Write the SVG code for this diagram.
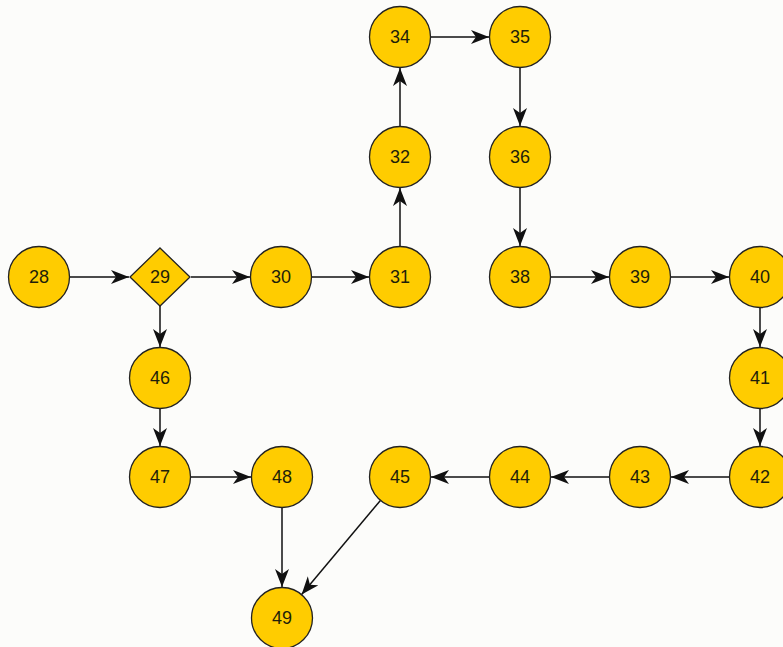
<svg xmlns="http://www.w3.org/2000/svg" width="783" height="647" viewBox="0 0 783 647">
<defs>
<style>
.n circle,.n polygon{fill:#FFCC00;stroke:#222;stroke-width:1.3}
.n text{font-family:"Liberation Sans",Arial,sans-serif;font-size:18px;fill:#1e1e0a;text-anchor:middle}
.e line{stroke:#111;stroke-width:1.5;marker-end:url(#a)}
</style>
<marker id="a" markerUnits="userSpaceOnUse" markerWidth="20" markerHeight="16" refX="18" refY="7" orient="auto">
<path d="M0,0 L18,7 L0,14 L5,7 Z" fill="#111"/>
</marker>
</defs>
<rect width="783" height="647" fill="#fcfcfa"/>
<g id="edges" class="e">
<line x1="70" y1="277" x2="129" y2="277"/>
<line x1="191" y1="277" x2="250" y2="277"/>
<line x1="311" y1="277" x2="369" y2="277"/>
<line x1="400" y1="246" x2="400" y2="188"/>
<line x1="400" y1="126" x2="400" y2="68"/>
<line x1="431" y1="37" x2="489" y2="37"/>
<line x1="520" y1="68" x2="520" y2="126"/>
<line x1="520" y1="188" x2="520" y2="246"/>
<line x1="551" y1="277" x2="609" y2="277"/>
<line x1="671" y1="277" x2="729" y2="277"/>
<line x1="760" y1="308" x2="760" y2="347"/>
<line x1="760" y1="409" x2="760" y2="446"/>
<line x1="729" y1="477" x2="671" y2="477"/>
<line x1="609" y1="477" x2="551" y2="477"/>
<line x1="489" y1="477" x2="431" y2="477"/>
<line x1="160" y1="306" x2="160" y2="347"/>
<line x1="160" y1="409" x2="160" y2="446"/>
<line x1="191" y1="477" x2="251" y2="477"/>
<line x1="282" y1="508" x2="282" y2="587"/>
<line x1="380.4" y1="500.4" x2="301.6" y2="594.6"/>
</g>
<g id="n28" class="n"><circle cx="39" cy="277" r="30.5"/><text x="39" y="283">28</text></g>
<g id="n29" class="n"><polygon points="160,248 190,277 160,306 130,277"/><text x="160" y="283">29</text></g>
<g id="n30" class="n"><circle cx="281" cy="277" r="30.5"/><text x="281" y="283">30</text></g>
<g id="n31" class="n"><circle cx="400" cy="277" r="30.5"/><text x="400" y="283">31</text></g>
<g id="n32" class="n"><circle cx="400" cy="157" r="30.5"/><text x="400" y="163">32</text></g>
<g id="n34" class="n"><circle cx="400" cy="37" r="30.5"/><text x="400" y="43">34</text></g>
<g id="n35" class="n"><circle cx="520" cy="37" r="30.5"/><text x="520" y="43">35</text></g>
<g id="n36" class="n"><circle cx="520" cy="157" r="30.5"/><text x="520" y="163">36</text></g>
<g id="n38" class="n"><circle cx="520" cy="277" r="30.5"/><text x="520" y="283">38</text></g>
<g id="n39" class="n"><circle cx="640" cy="277" r="30.5"/><text x="640" y="283">39</text></g>
<g id="n40" class="n"><circle cx="760" cy="277" r="30.5"/><text x="760" y="283">40</text></g>
<g id="n41" class="n"><circle cx="760" cy="378" r="30.5"/><text x="760" y="384">41</text></g>
<g id="n42" class="n"><circle cx="760" cy="477" r="30.5"/><text x="760" y="483">42</text></g>
<g id="n43" class="n"><circle cx="640" cy="477" r="30.5"/><text x="640" y="483">43</text></g>
<g id="n44" class="n"><circle cx="520" cy="477" r="30.5"/><text x="520" y="483">44</text></g>
<g id="n45" class="n"><circle cx="400" cy="477" r="30.5"/><text x="400" y="483">45</text></g>
<g id="n46" class="n"><circle cx="160" cy="378" r="30.5"/><text x="160" y="384">46</text></g>
<g id="n47" class="n"><circle cx="160" cy="477" r="30.5"/><text x="160" y="483">47</text></g>
<g id="n48" class="n"><circle cx="282" cy="477" r="30.5"/><text x="282" y="483">48</text></g>
<g id="n49" class="n"><circle cx="282" cy="618" r="30.5"/><text x="282" y="624">49</text></g>
</svg>
